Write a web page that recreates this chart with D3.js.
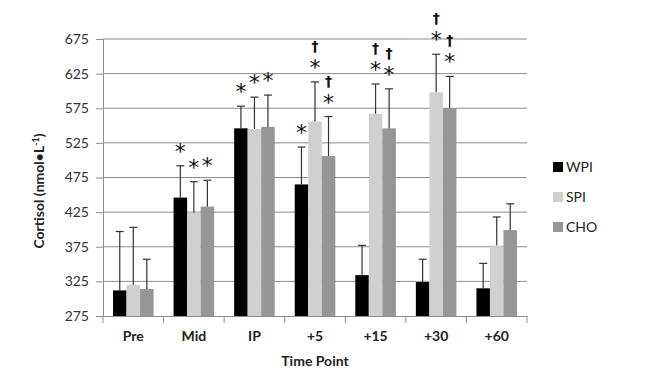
<!DOCTYPE html>
<html>
<head>
<meta charset="utf-8">
<script src="https://cdn.jsdelivr.net/npm/d3@7"></script>
<style>
  body { margin: 0; background: #fff; }
  text { font-family: Lato, "Open Sans", sans-serif; }
</style>
</head>
<body>
<script>
const categories = ['Pre', 'Mid', 'IP', '+5', '+15', '+30', '+60'];
const seriesNames = ['WPI', 'SPI', 'CHO'];
const wpi = [312, 446, 546, 465, 334, 324, 315];
const spi = [320, 424, 545, 556, 567, 598, 377];
const cho = [314, 433, 548, 506, 546, 575, 399];
// top of error bars
const wpiErr = [397, 492, 578, 519, 377, 357, 351];
const spiErr = [403, 469, 591, 613, 610, 653, 418];
const choErr = [357, 471, 594, 563, 603, 621, 437];
// significance marks per series / time point
const wpiMarks = ['', '*', '*', '*', '', '', ''];
const spiMarks = ['', '*', '*', '†*', '†*', '†*', ''];
const choMarks = ['', '*', '*', '†*', '†*', '†*', ''];
const yTicks = [275, 325, 375, 425, 475, 525, 575, 625, 675];
const colors = ['#000000', '#d0d0d0', '#969696'];

const values = [wpi, spi, cho];
const errs = [wpiErr, spiErr, choErr];
const marks = [wpiMarks, spiMarks, choMarks];

const width = 664, height = 379;
const svg = d3.select('body').append('svg')
  .attr('width', width)
  .attr('height', height);

const x = d3.scaleBand().domain(categories).range([103, 527]).padding(0);
const x1 = d3.scaleBand().domain(seriesNames).range([0, x.bandwidth()])
  .paddingInner(0).paddingOuter(0.74);
const y = d3.scaleLinear().domain([275, 675]).range([316, 39]);

// gridlines
svg.append('g')
  .selectAll('line')
  .data(yTicks.slice(1))
  .join('line')
  .attr('x1', 103).attr('x2', 527)
  .attr('y1', d => y(d)).attr('y2', d => y(d))
  .attr('stroke', '#8c8c8c').attr('stroke-width', 1);

// y axis
const yAxis = svg.append('g')
  .attr('transform', 'translate(103,0)')
  .call(d3.axisLeft(y).tickValues(yTicks).tickSize(7).tickPadding(7));
yAxis.select('.domain').attr('stroke', '#8c8c8c');
yAxis.selectAll('.tick line').attr('stroke', '#8c8c8c');
yAxis.selectAll('.tick text')
  .attr('font-size', 14).attr('fill', '#333')
  .style('font-family', 'Lato, sans-serif');

// x axis
const xAxis = svg.append('g')
  .attr('transform', 'translate(0,316)')
  .call(d3.axisBottom(x).tickSize(0).tickPadding(15));
xAxis.select('.domain').attr('stroke', '#8c8c8c');
xAxis.selectAll('.tick text')
  .attr('font-size', 14).attr('font-weight', 'bold').attr('fill', '#222')
  .style('font-family', 'Lato, sans-serif');
const bounds = categories.map(c => x(c)).concat([x(categories[categories.length - 1]) + x.bandwidth()]);
svg.append('g')
  .selectAll('line')
  .data(bounds)
  .join('line')
  .attr('x1', d => d).attr('x2', d => d)
  .attr('y1', 316).attr('y2', 323)
  .attr('stroke', '#8c8c8c');

// bars
const groups = svg.append('g')
  .selectAll('g')
  .data(categories)
  .join('g')
  .attr('transform', d => `translate(${x(d)},0)`);

groups.each(function(cat, ci) {
  const g = d3.select(this);
  seriesNames.forEach((s, si) => {
    const v = values[si][ci];
    const e = errs[si][ci];
    const bx = x1(s);
    const cx = bx + x1.bandwidth() / 2;
    g.append('rect')
      .attr('x', bx).attr('width', x1.bandwidth())
      .attr('y', y(v)).attr('height', y(275) - y(v))
      .attr('fill', colors[si]);
    g.append('line')
      .attr('x1', cx).attr('x2', cx)
      .attr('y1', y(v)).attr('y2', y(e))
      .attr('stroke', '#333').attr('stroke-width', 1.2);
    g.append('line')
      .attr('x1', cx - 4).attr('x2', cx + 4)
      .attr('y1', y(e)).attr('y2', y(e))
      .attr('stroke', '#333').attr('stroke-width', 1.2);
    const m = marks[si][ci];
    if (!m) return;
    // one text element: optional dagger line above the star
    const t = g.append('text')
      .attr('text-anchor', 'middle')
      .attr('fill', '#111')
      .style('font-family', 'DejaVu Sans, sans-serif');
    if (m.includes('†')) {
      t.append('tspan')
        .attr('x', cx).attr('y', y(e) - 31)
        .attr('font-size', 14).attr('font-weight', 'bold')
        .text('†');
    }
    t.append('tspan')
      .attr('x', cx).attr('y', y(e) - 7)
      .attr('font-size', 22)
      .text('*');
  });
});

// axis titles
svg.append('text')
  .attr('transform', 'translate(44,191) rotate(-90)')
  .attr('text-anchor', 'middle')
  .attr('font-size', 14).attr('font-weight', 'bold').attr('fill', '#222')
  .call(t => {
    t.append('tspan').text('Cortisol (nmol•L');
    t.append('tspan').attr('font-size', 9).attr('dy', -5).text('-1');
    t.append('tspan').attr('dy', 5).text(')');
  });

svg.append('text')
  .attr('x', 315).attr('y', 366)
  .attr('text-anchor', 'middle')
  .attr('font-size', 14).attr('font-weight', 'bold').attr('fill', '#222')
  .text('Time Point');

// legend
const legend = svg.append('g')
  .selectAll('g')
  .data(seriesNames)
  .join('g')
  .attr('transform', (d, i) => `translate(553,${167 + i * 30})`);
legend.append('rect')
  .attr('x', 0).attr('y', -5).attr('width', 10).attr('height', 10)
  .attr('fill', (d, i) => colors[i]);
legend.append('text')
  .attr('x', 13).attr('y', 5)
  .attr('font-size', 14).attr('fill', '#222')
  .text(d => d);
</script>
</body>
</html>
